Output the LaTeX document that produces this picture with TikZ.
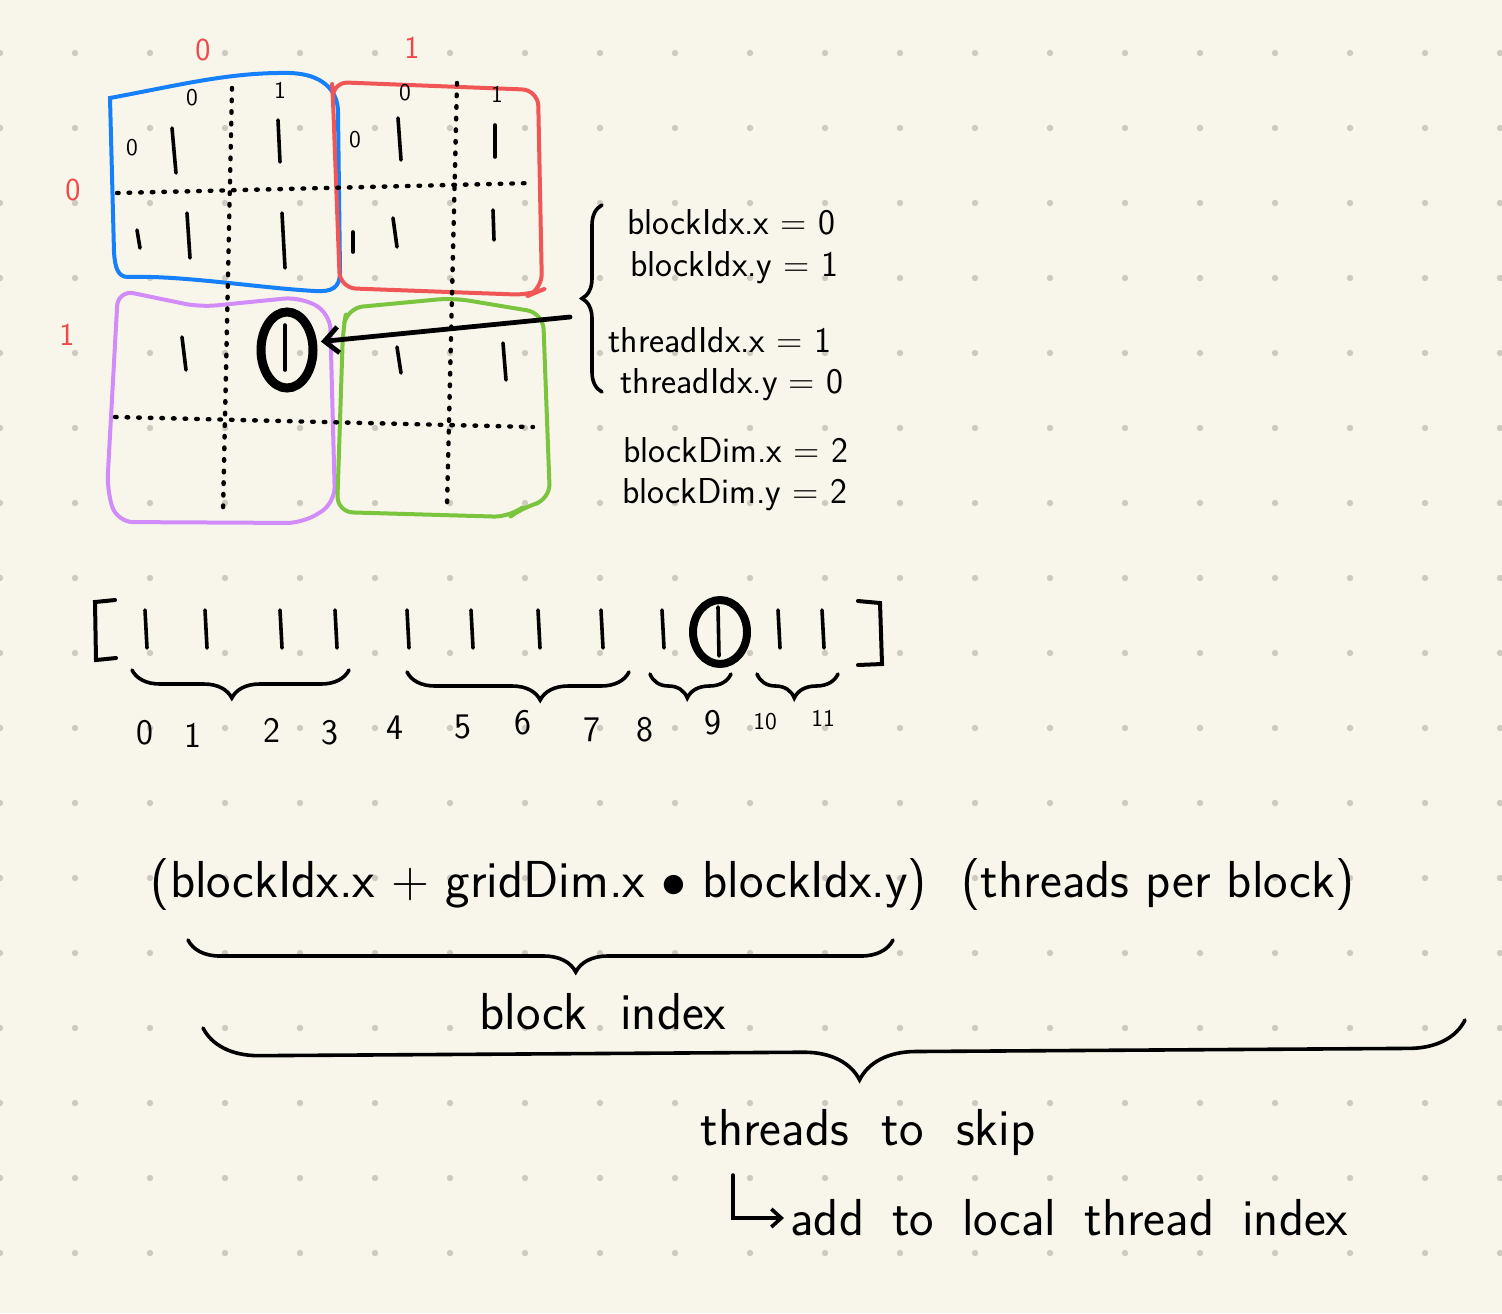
\documentclass[tikz,border=0pt]{standalone}
\usetikzlibrary{shapes,calc,positioning,decorations.pathreplacing,arrows.meta}

\definecolor{paper}{RGB}{248,246,234}
\definecolor{gdot}{RGB}{206,202,192}
\definecolor{bblue}{RGB}{22,128,250}
\definecolor{bred}{RGB}{240,86,86}
\definecolor{bpurple}{RGB}{210,140,250}
\definecolor{bgreen}{RGB}{122,196,62}
\definecolor{lred}{RGB}{240,72,72}

\tikzset{
  blk/.style={line width=2pt, rounded corners=8pt, line join=round},
  grd/.style={line width=2.2pt, line cap=round, dash pattern=on 0.8pt off 5pt},
  thr/.style={line width=1.8pt, line cap=round},
  hb/.style={line width=1.8pt, line cap=round, decorate, decoration={brace, mirror, amplitude=#1}},
  arr/.style={line width=2.4pt, line cap=round, -{Straight Barb[length=7pt,width=13pt]}},
  lbl/.style={font=\sffamily\fontsize{18}{20}\selectfont, inner sep=0pt},
  fml/.style={font=\sffamily\fontsize{26}{30}\selectfont, inner sep=0pt},
  num/.style={font=\sffamily\fontsize{18}{20}\selectfont, inner sep=0pt},
  sml/.style={font=\sffamily\fontsize{12}{14}\selectfont, inner sep=0pt},
  rlab/.style={font=\sffamily\fontsize{16}{18}\selectfont, text=lred, inner sep=0pt},
  ring/.style={ellipse, draw, line width=4.5pt, inner sep=0pt}
}

\begin{document}
\begin{tikzpicture}[x=0.5pt,y=-0.5pt]
\fill[paper] (0,0) rectangle (1502,1313);
\useasboundingbox (0,0) rectangle (1502,1313);

% dot paper
\foreach \i in {0,...,20}
  \foreach \j in {0,...,16}
    \fill[gdot] (\i*75,53+\j*75) circle (1.6pt);

% grid of blocks
\draw[bblue, line width=2pt] (110,98) .. controls (180,85) and (230,72) .. (290,73) .. controls (322,74) and (338,90) .. (338,112) -- (340,272) .. controls (340,288) and (332,292) .. (315,291) .. controls (260,288) and (180,275) .. (128,277) .. controls (118,277) and (115,268) .. (114,252) -- cycle;
\draw[blk,bred] (332,82) -- (538,90) -- (542,290) -- (530,295) -- (340,288) -- (333,100) -- cycle;
\draw[blk,bpurple] (118,290) -- (200,307) -- (300,297) -- (330,313) -- (335,503) -- (303,523) -- (117,522) -- (107,490) -- cycle;
\draw[blk,bgreen] (347,308) -- (453,298) -- (543,313) -- (550,500) -- (523,507) -- (510,517) -- (337,512) -- (343,330) -- cycle;

\draw[grd] (117,193) -- (533,183);
\draw[grd] (115,417) -- (533,427);
\draw[grd] (232,88) -- (223,512);
\draw[grd] (457,83) -- (447,507);

\node[rlab] (col0) at (203,50) {0};
\node[rlab] (col1) at (412,48) {1};
\node[rlab] (row0) at (73,190) {0};
\node[rlab] (row1) at (67,335) {1};

\node[sml] (bx0) at (192,98) {0};
\node[sml] (bx1) at (280,90) {1};
\node[sml] (by0) at (132,148) {0};
\node[sml] (rx0) at (405,93) {0};
\node[sml] (rx1) at (497,94) {1};
\node[sml] (ry0) at (355,140) {0};

% threads
\draw[thr] (172,128) -- (176,173);
\draw[thr] (278,120) -- (280,162);
\draw[thr] (137,230) -- (140,248);
\draw[thr] (187,213) -- (190,258);
\draw[thr] (282,213) -- (285,268);
\draw[thr] (398,118) -- (401,160);
\draw[thr] (495,125) -- (495,157);
\draw[thr] (353,232) -- (353,252);
\draw[thr] (393,218) -- (397,247);
\draw[thr] (493,210) -- (494,240);
\draw[thr] (182,337) -- (186,370);
\draw[thr] (397,347) -- (401,373);
\draw[thr] (503,343) -- (506,380);

\node[ring, minimum width=26pt, minimum height=38pt] (cur) at (287,350) {};
\draw[thr] (285,325) -- (285,370);

% ids
\node[lbl, anchor=west] (bix) at (627,222) {blockIdx.x = 0};
\node[lbl, anchor=west] (biy) at (630,268) {blockIdx.y = 1};
\node[lbl, anchor=west] (tix) at (608,340) {threadIdx.x = 1};
\node[lbl, anchor=west] (tiy) at (620,385) {threadIdx.y = 0};
\node[lbl, anchor=west] (bdx) at (623,450) {blockDim.x = 2};
\node[lbl, anchor=west] (bdy) at (622,495) {blockDim.y = 2};

\draw[hb=10pt, decoration={mirror=false, aspect=0.5}] (602,392) -- (602,205);
\coordinate (arst) at (570,317);
\draw[arr, shorten >=2pt] (arst) -- (cur.15);

% flattened array
\draw[thr, line width=2pt] (115,600) -- (95,602) -- (96,660) -- (116,658);
\draw[thr, line width=2pt] (858,601) -- (880,603) -- (882,664) -- (858,665);
\foreach \x in {145,205,280,335,407,471,538,601,662,778,822}
  \draw[thr] (\x,610) -- (\x+2,648);
\node[ring, line width=4pt, minimum width=27pt, minimum height=32pt] (cur2) at (720,632) {};
\draw[thr] (718,607) -- (719,656);

\draw[hb=14pt, decoration={aspect=0.46}] (132,670) -- (349,670);
\draw[hb=14pt, decoration={aspect=0.6}] (407,672) -- (629,672);
\draw[hb=12pt, decoration={aspect=0.46}] (650,674) -- (731,674);
\draw[hb=12pt, decoration={aspect=0.46}] (757,674) -- (838,674);

\node[num] (n0) at (145,733) {0};
\node[num] (n1) at (193,735) {1};
\node[num] (n2) at (272,730) {2};
\node[num] (n3) at (330,733) {3};
\node[num] (n4) at (395,728) {4};
\node[num] (n5) at (463,727) {5};
\node[num] (n6) at (523,723) {6};
\node[num] (n7) at (592,730) {7};
\node[num] (n8) at (645,730) {8};
\node[num] (n9) at (713,723) {9};
\node[sml] (n10) at (765,722) {10};
\node[sml] (n11) at (823,718) {11};

% formula
\node[fml] (fa) at (539,885) {(blockIdx.x + gridDim.x $\bullet$ blockIdx.y)};
\node[fml] (fb) at (1158,885) {(threads per block)};
\draw[hb=16pt, decoration={aspect=0.55}] (188,940) -- (893,940);
\node[fml] (bidx) at (603,1012) {block\ \ index};
\draw[hb=28pt, decoration={aspect=0.52}] (203,1028) -- (1465,1020);
\node[fml] (skip) at (868,1132) {threads\ \ to\ \ skip};
\node[fml, anchor=west] (addn) at (790,1218) {add\hspace{14pt}to\hspace{14pt}local\hspace{14pt}thread\hspace{14pt}index};
\coordinate (lst) at (733,1175);
\draw[arr, line width=1.8pt, -{Straight Barb[length=5pt,width=9pt]}] (lst) |- ([xshift=-3pt]addn.west);

\end{tikzpicture}
\end{document}
